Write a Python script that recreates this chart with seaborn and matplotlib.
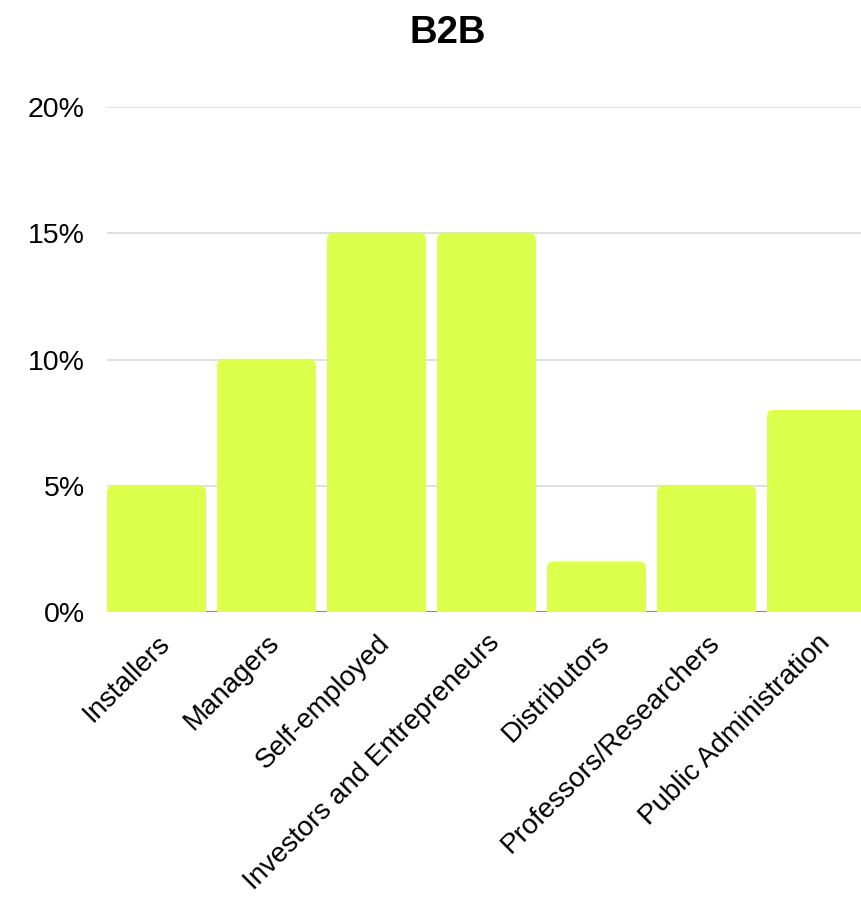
import matplotlib
matplotlib.use("Agg")
import matplotlib.pyplot as plt
import seaborn as sns
from matplotlib.patches import FancyBboxPatch
from matplotlib.ticker import FuncFormatter

# chart data
categories = ['Installers', 'Managers', 'Self-employed', 'Investors and Entrepreneurs',
              'Distributors', 'Professors/Researchers', 'Public Administration']
share_pct = [5, 10, 15, 15, 2, 5, 8]
y_ticks = [0, 5, 10, 15, 20]

sns.set_style('white')
plt.rcParams['font.family'] = ['Liberation Sans', 'DejaVu Sans']
plt.rcParams['text.color'] = 'black'
plt.rcParams['xtick.color'] = 'black'
plt.rcParams['ytick.color'] = 'black'

fig = plt.figure(figsize=(8.61, 8.97), dpi=100)
W, H = 861, 897
ax = fig.add_axes([107 / W, (H - 612) / H, (W - 107) / W, (612 - 107) / H])

# grid behind the bars
for t in y_ticks[1:]:
    ax.axhline(t, color='#d9d9d9', linewidth=1.2, zorder=0)
ax.axhline(0, color='#8a8a8a', linewidth=1.5, zorder=0)

sns.barplot(x=categories, y=share_pct, color='#dbff4b', saturation=1, width=0.9,
            ax=ax, zorder=2)

# swap the plain rectangles for ones with slightly rounded tops
for p in list(ax.patches):
    x, w, h = p.get_x(), p.get_width(), p.get_height()
    fc = p.get_facecolor()
    p.remove()
    ax.add_patch(FancyBboxPatch((x, -0.5), w, h + 0.5,
                                boxstyle='round,pad=0,rounding_size=0.06',
                                mutation_aspect=4.36, facecolor=fc,
                                edgecolor='none', zorder=2))

ax.set_xlim(-0.45, (W - 107) / 110 - 0.45)
ax.set_ylim(0, 20)
ax.set_yticks(y_ticks)
ax.yaxis.set_major_formatter(FuncFormatter(lambda v, p: f'{v:.0f}%'))
ax.tick_params(axis='y', length=0, pad=16, labelsize=20.5)
ax.tick_params(axis='x', length=0, pad=13, labelsize=20)
for lab in ax.get_xticklabels():
    lab.set_rotation(45)
    lab.set_ha('right')
    lab.set_va('top')
    lab.set_rotation_mode('anchor')
ax.set_xlabel('')
ax.set_ylabel('')
for s in ax.spines.values():
    s.set_visible(False)

fig.text(448 / W, 1 - 33 / H, 'B2B', ha='center', va='center',
         fontsize=27.5, fontweight='bold')

fig.savefig('out.png', dpi=100)
